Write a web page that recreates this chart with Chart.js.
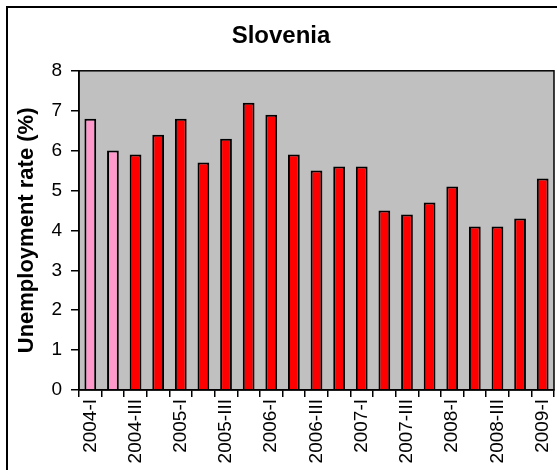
<!DOCTYPE html>
<html>
<head>
<meta charset="utf-8">
<script src="https://cdn.jsdelivr.net/npm/chart.js@4"></script>
<style>
  html, body { margin: 0; padding: 0; background: #fff; }
  #wrap { width: 557px; height: 470px; position: relative; }
</style>
</head>
<body>
<div id="wrap"><canvas id="chart" width="557" height="470"></canvas></div>
<script>
// Données
const quarters = ['2004-I', '2004-II', '2004-III', '2004-IV',
    '2005-I', '2005-II', '2005-III', '2005-IV',
    '2006-I', '2006-II', '2006-III', '2006-IV',
    '2007-I', '2007-II', '2007-III', '2007-IV',
    '2008-I', '2008-II', '2008-III', '2008-IV',
    '2009-I'];
const rates = [6.8, 6.0, 5.9, 6.4, 6.8, 5.7, 6.3, 7.2, 6.9, 5.9,
    5.5, 5.6, 5.6, 4.5, 4.4, 4.7, 5.1, 4.1, 4.1, 4.3, 5.3];
const yTicks = [0, 1, 2, 3, 4, 5, 6, 7, 8];

const barColors = rates.map((v, i) => i < 2 ? '#FF99CC' : '#FF0000');
const font = 'Liberation Sans, Arial';

// Fond gris + cadre
const plotBg = {
    id: 'plotBg',
    beforeDraw(chart) {
        const { ctx, chartArea: a } = chart;
        ctx.save();
        ctx.strokeStyle = '#000';
        ctx.lineWidth = 2;
        ctx.beginPath();
        ctx.moveTo(7, 480);
        ctx.lineTo(7, 7);
        ctx.lineTo(570, 7);
        ctx.stroke();
        ctx.fillStyle = '#C0C0C0';
        ctx.fillRect(a.left, a.top, a.right - a.left, a.bottom - a.top);
        ctx.restore();
    },
    afterDatasetsDraw(chart) {
        const { ctx, chartArea: a } = chart;
        ctx.save();
        ctx.strokeStyle = '#000';
        ctx.lineWidth = 1.5;
        ctx.strokeRect(a.left, a.top, a.right - a.left, a.bottom - a.top);
        ctx.restore();
    }
};

new Chart(document.getElementById('chart'), {
    type: 'bar',
    plugins: [plotBg],
    data: {
        labels: quarters,
        datasets: [{
            data: rates,
            backgroundColor: barColors,
            borderColor: '#000',
            borderWidth: 2,
            borderSkipped: 'bottom',
            barPercentage: 0.52,
            categoryPercentage: 1.0
        }]
    },
    options: {
        responsive: false,
        animation: false,
        layout: { padding: { left: 8, right: 3, top: 0, bottom: 0 } },
        plugins: {
            legend: { display: false },
            tooltip: { enabled: false },
            title: {
                display: true,
                text: 'Slovenia',
                color: '#000',
                font: { family: font, size: 24, weight: 'bold' },
                padding: { top: 22, bottom: 20 }
            }
        },
        scales: {
            x: {
                offset: true,
                grid: {
                    offset: true,
                    drawOnChartArea: false,
                    color: '#000',
                    tickLength: 7,
                    lineWidth: 1.5
                },
                border: { color: '#000', width: 1.5 },
                ticks: {
                    color: '#000',
                    autoSkip: false,
                    maxRotation: 90,
                    minRotation: 90,
                    padding: 2,
                    font: { family: font, size: 19 },
                    callback: (v, i) => i % 2 === 0 ? quarters[i] : ''
                },
                afterFit(scale) {
                    scale.height = 80;
                    scale.paddingLeft = 0;
                    scale.paddingRight = 0;
                }
            },
            y: {
                min: 0,
                max: 8,
                afterBuildTicks(scale) { scale.ticks = yTicks.map(v => ({ value: v })); },
                grid: {
                    drawOnChartArea: false,
                    color: '#000',
                    tickLength: 8,
                    lineWidth: 1.5
                },
                border: { color: '#000', width: 1.5 },
                ticks: {
                    color: '#000',
                    padding: 9,
                    font: { family: font, size: 19 }
                },
                title: {
                    display: true,
                    text: 'Unemployment rate (%)',
                    color: '#000',
                    font: { family: font, size: 22, weight: 'bold' },
                    padding: { top: 6, bottom: 0 }
                },
                afterFit(scale) { scale.width = 71; }
            }
        }
    }
});
</script>
</body>
</html>
